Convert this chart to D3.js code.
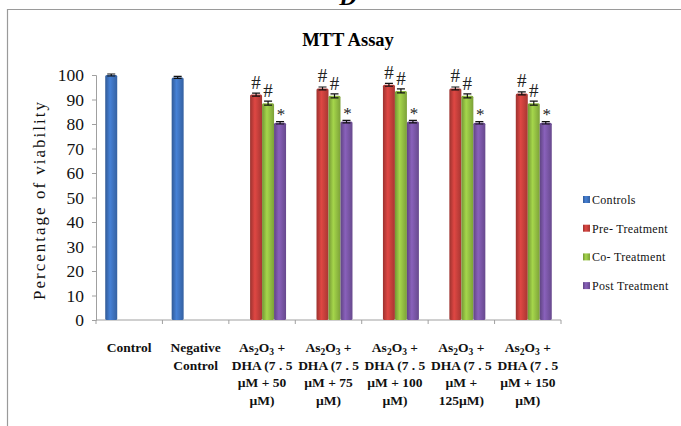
<!DOCTYPE html>
<html>
<head>
<meta charset="utf-8">
<script src="https://cdn.jsdelivr.net/npm/d3@7"></script>
<style>
  body { margin: 0; background: #fff; }
  svg text { font-family: "Liberation Serif", "Times New Roman", serif; }
</style>
</head>
<body>
<div class="viz"></div>
<script>
var width = 681,
    height = 426;

// data
var categories = ["Control", "Negative Control", "50", "75", "100", "125", "150"];
var categoryLines = [
    [["Control"]],
    [["Negative"], ["Control"]],
    ["as", ["DHA (7 . 5"], ["\u00b5M + 50"], ["\u00b5M)"]],
    ["as", ["DHA (7 . 5"], ["\u00b5M + 75"], ["\u00b5M)"]],
    ["as", ["DHA (7 . 5"], ["\u00b5M + 100"], ["\u00b5M)"]],
    ["as", ["DHA (7 . 5"], ["\u00b5M +"], ["125\u00b5M)"]],
    ["as", ["DHA (7 . 5"], ["\u00b5M + 150"], ["\u00b5M)"]]
];
var series = ["Controls", "Pre- Treatment", "Co- Treatment", "Post Treatment"];
var controls = [100, 99, null, null, null, null, null];
var preTreatment = [null, null, 92, 94.5, 96, 94.5, 92.5];
var coTreatment = [null, null, 88.5, 91.5, 93.5, 91.5, 88.5];
var postTreatment = [null, null, 80.5, 81, 81, 80.5, 80.5];
var errors = [0.4, 0.6, 0.8, 0.5];
var marks = ["", "#", "#", "*"];
var yTicks = [0, 10, 20, 30, 40, 50, 60, 70, 80, 90, 100];

var values = [controls, preTreatment, coTreatment, postTreatment];
var colors = ["#3f74c0", "#c8403c", "#94c043", "#7b57a8"];

var svg = d3.select(".viz").append("svg")
    .attr("width", width)
    .attr("height", height);

// bar gradients (cylinder look)
var defs = svg.append("defs");
colors.forEach(function (c, i) {
    var base = d3.rgb(c);
    var g = defs.append("linearGradient")
        .attr("id", "grad" + i)
        .attr("x1", "0%").attr("x2", "100%")
        .attr("y1", "0%").attr("y2", "0%");
    g.append("stop").attr("offset", "0%").attr("stop-color", base.darker(0.7));
    g.append("stop").attr("offset", "40%").attr("stop-color", base.brighter(0.3));
    g.append("stop").attr("offset", "100%").attr("stop-color", base.darker(0.5));
});

// outer frame (cropped)
svg.append("path")
    .attr("d", "M7.5," + height + "V9.5H" + width)
    .attr("fill", "none")
    .attr("stroke", "#9a9a9a")
    .attr("stroke-width", 1.2);

svg.append("text")
    .attr("x", 348).attr("y", 5)
    .attr("text-anchor", "middle")
    .attr("font-size", 24)
    .attr("font-weight", "bold")
    .attr("font-style", "italic")
    .text("D");

svg.append("text")
    .attr("x", 348).attr("y", 46)
    .attr("text-anchor", "middle")
    .attr("font-size", 18.5)
    .attr("font-weight", "bold")
    .text("MTT Assay");

var x0 = d3.scaleBand()
    .domain(categories)
    .range([96, 561]);

var x1 = d3.scaleBand()
    .domain(series)
    .range([0, x0.bandwidth()])
    .paddingOuter(0.77);

var y = d3.scaleLinear()
    .domain([0, 100])
    .range([320, 75]);

// y axis
var yAxis = svg.append("g")
    .attr("transform", "translate(96,0)")
    .call(d3.axisLeft(y).tickValues(yTicks).tickSize(4).tickPadding(8));
yAxis.selectAll("line, path").attr("stroke", "#a0a0a0");
yAxis.selectAll("text")
    .attr("font-size", 17.5)
    .attr("fill", "#111");

// x axis
var xAxis = svg.append("g")
    .attr("transform", "translate(0,320)");
xAxis.append("line")
    .attr("x1", 96).attr("x2", 561)
    .attr("stroke", "#a0a0a0");
xAxis.selectAll(".tk")
    .data(d3.range(categories.length + 1))
    .join("line")
    .attr("class", "tk")
    .attr("x1", function (i) { return 96 + i * x0.step(); })
    .attr("x2", function (i) { return 96 + i * x0.step(); })
    .attr("y1", 0).attr("y2", 4)
    .attr("stroke", "#a0a0a0");

svg.append("text")
    .attr("transform", "translate(45,200) rotate(-90)")
    .attr("text-anchor", "middle")
    .attr("font-size", 17)
    .attr("letter-spacing", 2)
    .attr("fill", "#111")
    .text("Percentage of viability");

// category labels
var labels = svg.append("g")
    .attr("font-size", 13.5)
    .attr("font-weight", "bold")
    .attr("text-anchor", "middle")
    .attr("fill", "#111");

categories.forEach(function (cat, i) {
    var cx = x0(cat) + x0.bandwidth() / 2;
    categoryLines[i].forEach(function (line, j) {
        var t = labels.append("text")
            .attr("x", cx)
            .attr("y", 352 + j * 17.7);
        if (line === "as") {
            t.append("tspan").text("As");
            t.append("tspan").attr("font-size", 9.5).attr("dy", 3).text("2");
            t.append("tspan").attr("dy", -3).text("O");
            t.append("tspan").attr("font-size", 9.5).attr("dy", 3).text("3");
            t.append("tspan").attr("dy", -3).text(" +");
        } else {
            t.text(line[0]);
        }
    });
});

// bars
series.forEach(function (s, si) {
    var data = categories.map(function (c, ci) {
        return { cat: c, value: values[si][ci] };
    }).filter(function (d) { return d.value != null; });

    var g = svg.append("g");

    g.selectAll("rect")
        .data(data)
        .join("rect")
        .attr("x", function (d) { return x0(d.cat) + x1(s); })
        .attr("y", function (d) { return y(d.value); })
        .attr("width", x1.bandwidth())
        .attr("height", function (d) { return y(0) - y(d.value); })
        .attr("rx", 1.5)
        .attr("fill", "url(#grad" + si + ")");

    // error bars
    var eb = g.selectAll(".err")
        .data(data)
        .join("g")
        .attr("class", "err")
        .attr("transform", function (d) {
            return "translate(" + (x0(d.cat) + x1(s) + x1.bandwidth() / 2) + ",0)";
        });
    eb.append("path")
        .attr("d", function (d) {
            var top = y(d.value + errors[si]), bot = y(d.value - errors[si]);
            return "M-4," + top + "H4M0," + top + "V" + bot + "M-4," + bot + "H4";
        })
        .attr("stroke", "#111")
        .attr("stroke-width", 1.2)
        .attr("fill", "none");

    // significance marks
    if (marks[si]) {
        g.selectAll(".mark")
            .data(data)
            .join("text")
            .attr("class", "mark")
            .attr("x", function (d) { return x0(d.cat) + x1(s) + x1.bandwidth() / 2 + (si === 3 ? 1 : 0); })
            .attr("y", function (d) { return y(d.value) - (si === 3 ? 3 : 6); })
            .attr("text-anchor", "middle")
            .attr("font-size", si === 3 ? 17 : 19)
            .attr("fill", "#222")
            .text(marks[si]);
    }
});

// legend
var legend = svg.append("g")
    .attr("transform", "translate(583,200)");
series.forEach(function (s, i) {
    var row = legend.append("g")
        .attr("transform", "translate(0," + (i * 28.7) + ")");
    row.append("rect")
        .attr("x", 0).attr("y", -4)
        .attr("width", 7).attr("height", 7)
        .attr("fill", "url(#grad" + i + ")");
    row.append("text")
        .attr("x", 9).attr("y", 4)
        .attr("font-size", 12)
        .attr("letter-spacing", 0.3)
        .attr("fill", "#111")
        .text(s);
});
</script>
</body>
</html>
